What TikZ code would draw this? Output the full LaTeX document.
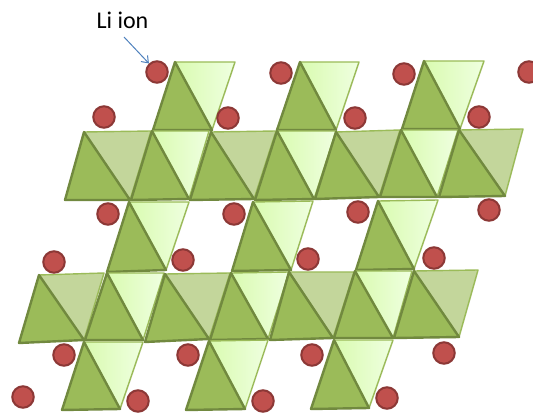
\documentclass[tikz,border=0pt]{standalone}
\usepackage{fontspec}
\setmainfont{Carlito}
\usetikzlibrary{arrows.meta,shadows}
\definecolor{darkgreen}{HTML}{9BBB59}
\definecolor{edgegreen}{HTML}{71893F}
\definecolor{palegreen}{HTML}{C3D69B}
\definecolor{limeleft}{HTML}{D9FBB0}
\definecolor{limeright}{HTML}{EFFFE0}
\definecolor{ionred}{HTML}{C0504D}
\definecolor{ionedge}{HTML}{8C3836}
\definecolor{arrowblue}{HTML}{4F81BD}
\tikzset{
  darkface/.style={fill=darkgreen,draw=edgegreen,line width=2.4pt,line join=round},
  limeface/.style={left color=limeleft,right color=limeright,draw=darkgreen,line width=1.4pt,line join=round,
    drop shadow={opacity=.12,shadow xshift=.8pt,shadow yshift=-.8pt}},
  paleface/.style={fill=palegreen,draw=darkgreen,line width=1.4pt,line join=round,
    drop shadow={opacity=.12,shadow xshift=.8pt,shadow yshift=-.8pt}},
  ion/.style={circle,fill=ionred,draw=ionedge,line width=2pt,minimum size=21.5pt,inner sep=0pt},
}
\begin{document}
\begin{tikzpicture}[x=1pt,y=-1pt]
  \useasboundingbox (0,0) rectangle (533,414);
  % apex, lower left, lower right, upper right
  \foreach \f/\ax/\ay/\bx/\by/\cx/\cy/\tx/\ty in {
    limeface/175/62/153/130/212/130/235/62,
    limeface/300/62/277/130/336/130/359/62,
    limeface/424/61/402/129/460/129/484/61,
    paleface/84/132/65/200/130/200/151/131,
    limeface/152/131/131/200/189/199/209/131,
    paleface/211/132/190/200/254/199/276/131,
    limeface/277/131/255/200/314/199/336/131,
    paleface/336/132/315/199/379/197/400/130,
    limeface/401/130/380/197/437/197/458/130,
    paleface/459/130/439/197/505/196/523/129,
    limeface/129/202/107/272/166/270/189/202,
    limeface/253/202/232/271/291/270/313/201,
    limeface/378/201/356/270/414/269/438/200,
    paleface/39/275/19/343/84/340/104/273,
    limeface/107/273/85/340/143/340/164/273,
    paleface/165/274/145/342/209/339/230/273,
    limeface/231/273/210/340/268/339/289/272,
    paleface/289/272/270/340/333/338/354/272,
    limeface/355/271/334/338/393/338/412/271,
    paleface/414/271/394/338/459/337/478/270,
    limeface/84/342/62/410/120/409/143/342,
    limeface/209/341/186/410/245/409/268/340,
    limeface/334/340/311/409/369/408/393/340}
  {
    \draw[\f] (\ax,\ay)--(\tx,\ty)--(\cx,\cy)--cycle;
    \draw[darkface] (\ax,\ay)--(\bx,\by)--(\cx,\cy)--cycle;
  }
  \foreach \x/\y [count=\i] in {157/72,104/117,228/118,281/73,355/118,404/74,479/117,529/72,
    108/214,234/214,358/212,489/210,54/262,183/260,308/259,434/258,
    64/355,188/355,312/355,444/353,23/397,138/401,263/401,387/398}
    \node[ion] (ion\i) at (\x,\y) {};
  \node[font=\fontsize{24}{28}\selectfont] (label) at (122.5,20) {Li ion};
  \coordinate (tail) at (124,37);
  \draw[arrowblue,line width=1pt,-{Straight Barb[length=6pt,width=9pt]}] (tail)--(ion1);
\end{tikzpicture}
\end{document}
